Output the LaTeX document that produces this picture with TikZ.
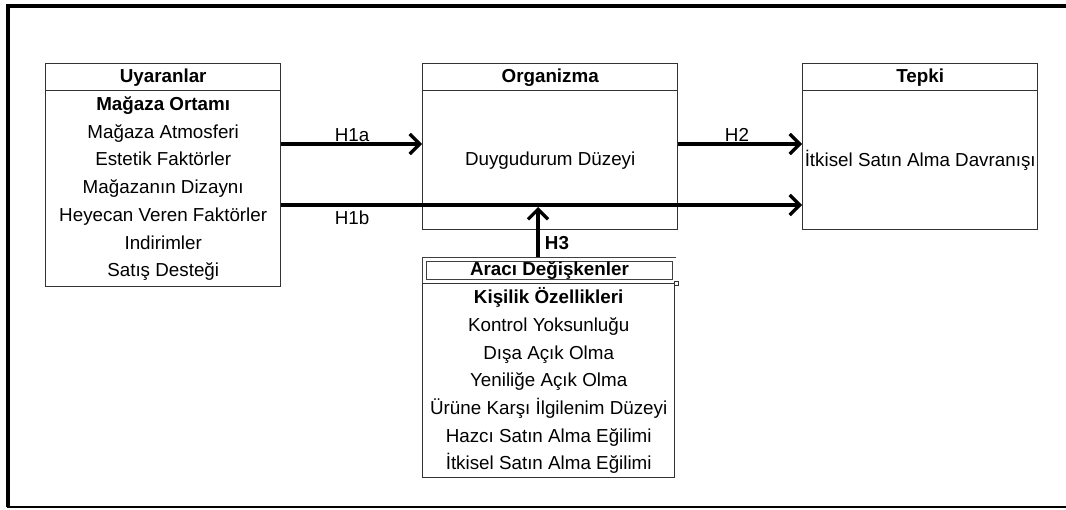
\documentclass[tikz,border=0pt]{standalone}
\usepackage{fontspec}
\setmainfont{Liberation Sans}
\usetikzlibrary{arrows.meta}
\begin{document}
\begin{tikzpicture}[x=0.5pt,y=-0.5pt,
  box/.style={draw=black!80, line width=0.7pt, rectangle, inner sep=0pt,
    anchor=north west, align=center, font=\fontsize{9.4}{13.85}\selectfont},
  head/.style={box, font=\bfseries\fontsize{9.4}{13.85}\selectfont},
  arr/.style={line width=2pt, -{Straight Barb[length=5pt,width=10pt,line width=1.6pt]}},
  lbl/.style={font=\fontsize{9.4}{12}\selectfont, inner sep=0pt}]
\useasboundingbox (0,0) rectangle (1066,509);

% outer frame (open on the right)
\draw[line width=1.7pt] (1066,6) -- (8,6) -- (8,507);
\draw[line width=1pt] (7.2,507) -- (1066,507);

% Uyaranlar
\node[head, minimum width=117.5pt, minimum height=13.5pt] (uyHead) at (45,63) {Uyaranlar};
\node[box, minimum width=117.5pt, minimum height=98pt] (uyBody) at (45,90)
  {\textbf{Mağaza Ortamı}\\Mağaza Atmosferi\\Estetik Faktörler\\Mağazanın Dizaynı\\Heyecan Veren Faktörler\\Indirimler\\Satış Desteği};

% Organizma
\node[head, minimum width=127.5pt, minimum height=13.5pt] (orgHead) at (422,63) {Organizma};
\node[box, minimum width=127.5pt, minimum height=69.5pt] (orgBody) at (422,90) {Duygudurum Düzeyi};

% Tepki
\node[head, minimum width=117.5pt, minimum height=13.5pt] (tepHead) at (802,63) {Tepki};
\node[box, minimum width=117.5pt, minimum height=69.5pt] (tepBody) at (802,90) {İtkisel Satın Alma Davranışı};

% Aracı Değişkenler (double-ruled heading)
\node[box, minimum width=126pt, minimum height=97pt] (arBody) at (422,283)
  {\textbf{Kişilik Özellikleri}\\Kontrol Yoksunluğu\\Dışa Açık Olma\\Yeniliğe Açık Olma\\Ürüne Karşı İlgilenim Düzeyi\\Hazcı Satın Alma Eğilimi\\İtkisel Satın Alma Eğilimi};
\node[head, fill=white, draw=black!75, line width=0.45pt, double, double distance=1.2pt,
  minimum width=124.9pt, minimum height=10.9pt] (arHead) at (424.1,259.1) {Aracı Değişkenler};
\node[draw=black!80, fill=white, line width=0.5pt, inner sep=0pt, minimum size=2pt] (handle) at ([xshift=1pt,yshift=-1pt]arHead.south east) {};

% connector rows and column
\coordinate (ya) at (0,144);
\coordinate (yb) at (0,205);
\coordinate (xh) at (538,0);

\draw[arr] (uyBody.east |- ya) -- (orgBody.west |- ya);
\draw[arr] (orgBody.east |- ya) -- (tepBody.west |- ya);
\draw[arr] (uyBody.east |- yb) -- (tepBody.west |- yb);
\draw[arr] ([yshift=1pt]arHead.north -| xh) -- ([yshift=-1pt]xh |- yb);

% hypothesis labels
\node[lbl] (h1a) at (352,135) {H1a};
\node[lbl] (h1b) at (352,218) {H1b};
\node[lbl] (h2) at (737,135) {H2};
\node[lbl, font=\bfseries\fontsize{9.4}{12}\selectfont] (h3) at (557,243) {H3};
\end{tikzpicture}
\end{document}
